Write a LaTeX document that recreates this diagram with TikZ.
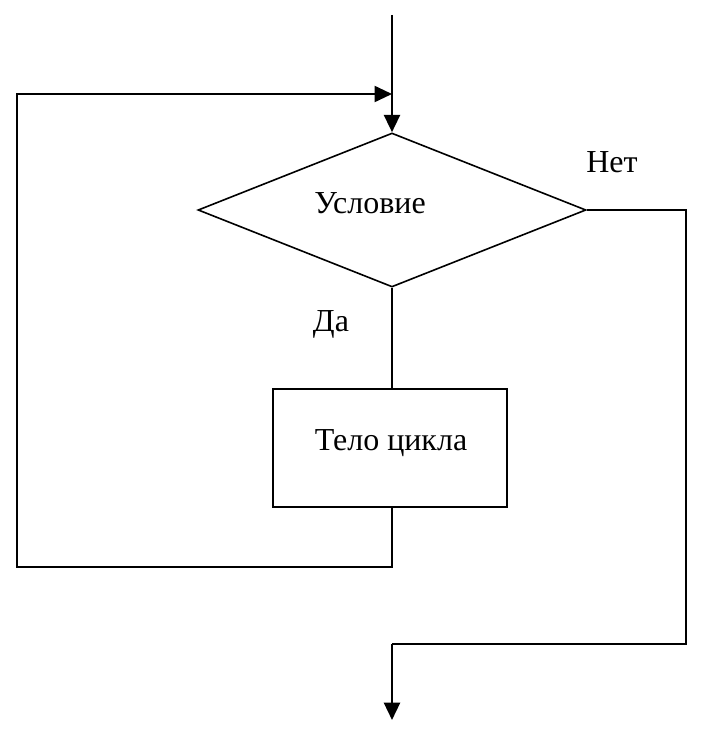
\documentclass[tikz,border=0pt]{standalone}
\usepackage{fontspec}
\setmainfont{Liberation Serif}
\usetikzlibrary{shapes.geometric,arrows.meta}
\begin{document}
\begin{tikzpicture}[x=0.75pt,y=-0.75pt,
  line/.style={line width=1.4pt,line join=miter},
  flowarrow/.style={-{Triangle[length=13pt,width=12pt]}},
  lbl/.style={anchor=base,inner sep=0pt,font=\fontsize{24}{28}\selectfont}]
\useasboundingbox (0,0) rectangle (717,731);
\node[diamond,draw,line width=1.2pt,minimum width=291pt,minimum height=115.5pt,inner sep=0pt] (cond) at (392,210) {};
\node[rectangle,draw,line width=1.4pt,minimum width=176pt,minimum height=88.5pt,inner sep=0pt] (body) at (390,448) {};
\node[lbl] (tcond) at (370,213) {Условие};
\node[lbl] (tbody) at (391,450) {Тело цикла};
\node[lbl] (tno) at (612,172) {Нет};
\node[lbl] (tyes) at (331,331) {Да};
\coordinate (top) at (392,15);
\coordinate (lb) at (17,567);
\coordinate (lt) at (17,94);
\coordinate (rt) at (686,210);
\coordinate (rb) at (686,644);
\coordinate (out) at (392,720);
\draw[line,line width=1.8pt,flowarrow] (top) -- (cond.north);
\draw[line,line width=1.8pt] (cond.south) -- (cond.south |- body.north);
\draw[line,flowarrow] (cond.south |- body.south) -- (cond.south |- lb) -- (lb) -- (lt) -- (lt -| cond.north);
\draw[line] (cond.east) -- (rt) -- (rb) -- (rb -| cond.north);
\draw[line,line width=1.8pt,flowarrow] (rb -| cond.north) -- (out);
\end{tikzpicture}
\end{document}
